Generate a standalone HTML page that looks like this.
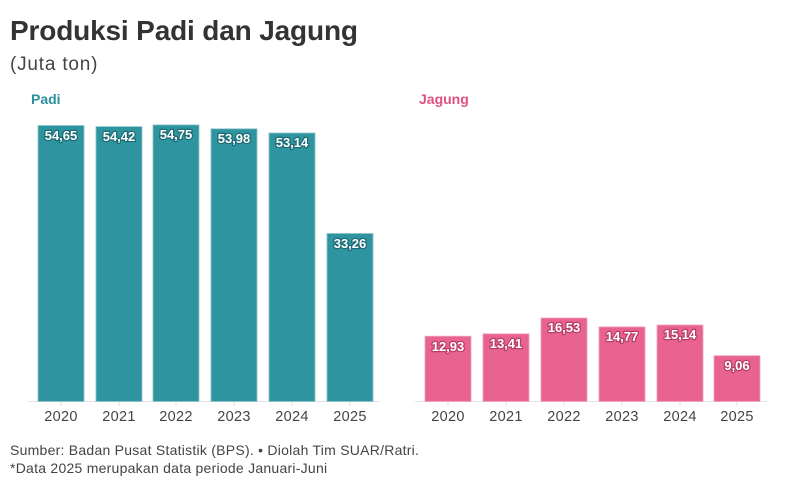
<!DOCTYPE html><html><head><style>body{margin:0;background:#fff;width:795px;height:488px;overflow:hidden;font-family:"Liberation Sans",sans-serif}</style></head><body>
<svg width="795" height="488" xmlns="http://www.w3.org/2000/svg" font-family="Liberation Sans, sans-serif">
<text x="10" y="40" font-size="28" font-weight="bold" fill="#333" textLength="348">Produksi Padi dan Jagung</text>
<text x="10" y="70" font-size="19" fill="#444" letter-spacing="0.8">(Juta ton)</text>
<text x="31" y="104" font-size="14" font-weight="bold" fill="#2a8f9a">Padi</text>
<text x="419" y="104" font-size="14" font-weight="bold" fill="#e0507f">Jagung</text>
<line x1="28" y1="401.5" x2="380" y2="401.5" stroke="#e4e4e4"/>
<line x1="415" y1="401.5" x2="767" y2="401.5" stroke="#e4e4e4"/>
<g fill="#2e95a0" stroke="#8cc4ca" stroke-width="0.8">
<rect x="38" y="125.5" width="46" height="276"/>
<rect x="96" y="126.6" width="46" height="274.9"/>
<rect x="153" y="124.9" width="46" height="276.6"/>
<rect x="211" y="128.8" width="46" height="272.7"/>
<rect x="269" y="133" width="46" height="268.5"/>
<rect x="327" y="233.5" width="46" height="168"/>
</g>
<g fill="#e8638f" stroke="#f0a3bd" stroke-width="0.8">
<rect x="425" y="336.2" width="46" height="65.3"/>
<rect x="483" y="333.8" width="46" height="67.7"/>
<rect x="541" y="318" width="46" height="83.5"/>
<rect x="599" y="326.9" width="46" height="74.6"/>
<rect x="657" y="325" width="46" height="76.5"/>
<rect x="714" y="355.7" width="46" height="45.8"/>
</g>
<g font-size="13" font-weight="bold" fill="#fff" text-anchor="middle" stroke-width="2.5" paint-order="stroke" stroke-linejoin="round">
<g stroke="#1d6c75">
<text x="61" y="140">54,65</text><text x="119" y="141">54,42</text><text x="176" y="139">54,75</text><text x="234" y="143">53,98</text><text x="292" y="147">53,14</text><text x="350" y="248">33,26</text></g>
<g stroke="#b83e67">
<text x="448" y="351">12,93</text><text x="506" y="348">13,41</text><text x="564" y="332">16,53</text><text x="622" y="341">14,77</text><text x="680" y="339">15,14</text><text x="737" y="370">9,06</text></g>
</g>
<g stroke="#ddd"><line x1="61" y1="402" x2="61" y2="406"/><line x1="119" y1="402" x2="119" y2="406"/><line x1="176" y1="402" x2="176" y2="406"/><line x1="234" y1="402" x2="234" y2="406"/><line x1="292" y1="402" x2="292" y2="406"/><line x1="350" y1="402" x2="350" y2="406"/>
<line x1="448" y1="402" x2="448" y2="406"/><line x1="506" y1="402" x2="506" y2="406"/><line x1="564" y1="402" x2="564" y2="406"/><line x1="622" y1="402" x2="622" y2="406"/><line x1="680" y1="402" x2="680" y2="406"/><line x1="737" y1="402" x2="737" y2="406"/></g>
<g font-size="14.5" fill="#444" text-anchor="middle" letter-spacing="0.3">
<text x="61" y="421">2020</text><text x="119" y="421">2021</text><text x="176" y="421">2022</text><text x="234" y="421">2023</text><text x="292" y="421">2024</text><text x="350" y="421">2025</text>
<text x="448" y="421">2020</text><text x="506" y="421">2021</text><text x="564" y="421">2022</text><text x="622" y="421">2023</text><text x="680" y="421">2024</text><text x="737" y="421">2025</text></g>
<text x="10" y="455" font-size="14" fill="#444" letter-spacing="0.25">Sumber: Badan Pusat Statistik (BPS). • Diolah Tim SUAR/Ratri.</text>
<text x="10" y="473" font-size="14" fill="#444" letter-spacing="0.25">*Data 2025 merupakan data periode Januari-Juni</text>
</svg></body></html>
